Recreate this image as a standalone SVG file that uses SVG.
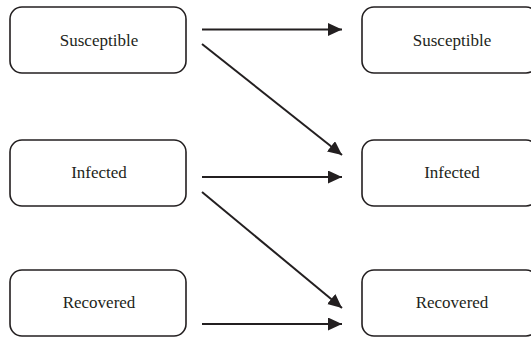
<svg xmlns="http://www.w3.org/2000/svg" width="531" height="339" viewBox="0 0 531 339">
<style>
.box{fill:#fff;stroke:#231f20;stroke-width:1.6}
.lbl{font-family:"Liberation Serif","Times New Roman",serif;font-size:17px;fill:#231f20;text-anchor:middle}
.con{stroke:#231f20;stroke-width:2;fill:none;marker-end:url(#ah)}
</style>
<defs>
<marker id="ah" markerWidth="16" markerHeight="14" refX="14" refY="6.5" orient="auto" markerUnits="userSpaceOnUse">
<path d="M0,0 L14,6.5 L0,13 Z" fill="#231f20"/>
</marker>
</defs>
<rect width="531" height="339" fill="#fff"/>
<g id="s1"><rect class="box" x="10" y="7" width="176" height="66" rx="12"/><text class="lbl" x="99" y="46">Susceptible</text></g>
<g id="i1"><rect class="box" x="10" y="140" width="176" height="66" rx="12"/><text class="lbl" x="99" y="178">Infected</text></g>
<g id="r1"><rect class="box" x="10" y="270" width="176" height="66" rx="12"/><text class="lbl" x="99" y="308">Recovered</text></g>
<g id="s2"><rect class="box" x="362" y="7" width="176" height="66" rx="12"/><text class="lbl" x="452" y="46">Susceptible</text></g>
<g id="i2"><rect class="box" x="362" y="140" width="176" height="66" rx="12"/><text class="lbl" x="452" y="178">Infected</text></g>
<g id="r2"><rect class="box" x="362" y="270" width="176" height="66" rx="12"/><text class="lbl" x="452" y="308">Recovered</text></g>
<g id="connectors">
<line class="con" x1="202" y1="29.5" x2="342" y2="29.5"/>
<line class="con" x1="202" y1="44" x2="342" y2="155"/>
<line class="con" x1="202" y1="177" x2="342" y2="177"/>
<line class="con" x1="202" y1="192" x2="342" y2="308"/>
<line class="con" x1="202" y1="324" x2="342" y2="324"/>
</g>
</svg>
